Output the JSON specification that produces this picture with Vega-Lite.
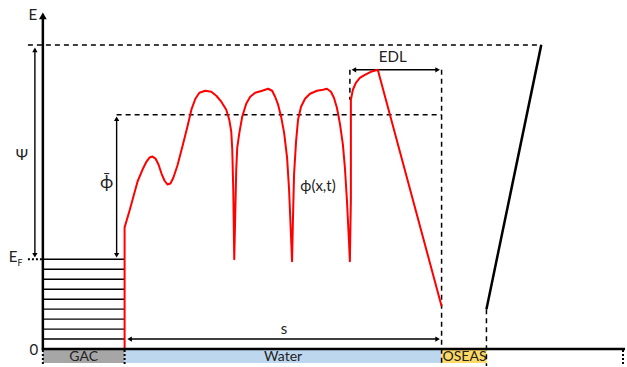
{
  "$schema": "https://vega.github.io/schema/vega-lite/v6.json",
  "width": 627,
  "height": 367,
  "autosize": {"type": "fit", "contains": "padding"},
  "padding": 0,
  "config": {"view": {"stroke": null}, "text": {"font": "Lato"}},
  "datasets": {
    "strip": [
      {"region": "GAC", "x": 43, "x2": 125, "y": 351, "y2": 364},
      {"region": "Water", "x": 125, "x2": 443, "y": 351, "y2": 364},
      {"region": "OSEAS", "x": 443, "x2": 488, "y": 351, "y2": 364}
    ],
    "thick": [
      {"x": 43, "y": 351, "x2": 43, "y2": 18},
      {"x": 42, "y": 350, "x2": 627, "y2": 350},
      {"x": 543, "y": 45, "x2": 488, "y2": 310}
    ],
    "thin": [
      {"x": 35, "y": 50, "x2": 35, "y2": 255},
      {"x": 117, "y": 120, "x2": 117, "y2": 255},
      {"x": 356, "y": 70, "x2": 438, "y2": 70},
      {"x": 131, "y": 340, "x2": 438, "y2": 340},
      {"x": 43, "y": 260, "x2": 125, "y2": 260},
      {"x": 43, "y": 270, "x2": 125, "y2": 270},
      {"x": 43, "y": 280, "x2": 125, "y2": 280},
      {"x": 43, "y": 290, "x2": 125, "y2": 290},
      {"x": 43, "y": 300, "x2": 125, "y2": 300},
      {"x": 43, "y": 310, "x2": 125, "y2": 310},
      {"x": 43, "y": 320, "x2": 125, "y2": 320},
      {"x": 43, "y": 330, "x2": 125, "y2": 330},
      {"x": 43, "y": 340, "x2": 125, "y2": 340}
    ],
    "dashed": [
      {"x": 28, "y": 45, "x2": 543, "y2": 45},
      {"x": 117, "y": 115, "x2": 443, "y2": 115},
      {"x": 351, "y": 70, "x2": 351, "y2": 100},
      {"x": 443, "y": 70, "x2": 443, "y2": 367},
      {"x": 488, "y": 310, "x2": 488, "y2": 367}
    ],
    "dotted": [
      {"x": 28, "y": 260, "x2": 43, "y2": 260},
      {"x": 43, "y": 351, "x2": 43, "y2": 367},
      {"x": 125, "y": 351, "x2": 125, "y2": 367},
      {"x": 625, "y": 351, "x2": 625, "y2": 367}
    ],
    "heads": [
      {"x": 43, "y": 16, "dir": "up", "kind": "big"},
      {"x": 35, "y": 50, "dir": "up", "kind": "small"},
      {"x": 35, "y": 256, "dir": "down", "kind": "small"},
      {"x": 117, "y": 119, "dir": "up", "kind": "small"},
      {"x": 117, "y": 256, "dir": "down", "kind": "small"},
      {"x": 355, "y": 70, "dir": "left", "kind": "small"},
      {"x": 439, "y": 70, "dir": "right", "kind": "small"},
      {"x": 130, "y": 340, "dir": "left", "kind": "small"},
      {"x": 439, "y": 340, "dir": "right", "kind": "small"}
    ],
    "phi": [
      {"i": 0, "x": 125, "y": 351},
      {"i": 1, "x": 125, "y": 228},
      {"i": 2, "x": 130, "y": 211},
      {"i": 3, "x": 138, "y": 182},
      {"i": 4, "x": 143, "y": 170},
      {"i": 5, "x": 147, "y": 162},
      {"i": 6, "x": 150, "y": 158},
      {"i": 7, "x": 153, "y": 157},
      {"i": 8, "x": 156, "y": 159},
      {"i": 9, "x": 159, "y": 165},
      {"i": 10, "x": 162, "y": 174},
      {"i": 11, "x": 165, "y": 181},
      {"i": 12, "x": 168, "y": 185},
      {"i": 13, "x": 171, "y": 184},
      {"i": 14, "x": 174, "y": 178},
      {"i": 15, "x": 178, "y": 166},
      {"i": 16, "x": 183, "y": 147},
      {"i": 17, "x": 188, "y": 127},
      {"i": 18, "x": 192, "y": 110},
      {"i": 19, "x": 196, "y": 99},
      {"i": 20, "x": 200, "y": 93},
      {"i": 21, "x": 206, "y": 91},
      {"i": 22, "x": 212, "y": 92},
      {"i": 23, "x": 217, "y": 96},
      {"i": 24, "x": 222, "y": 102},
      {"i": 25, "x": 227, "y": 110},
      {"i": 26, "x": 230, "y": 120},
      {"i": 27, "x": 232, "y": 132},
      {"i": 28, "x": 233, "y": 150},
      {"i": 29, "x": 234, "y": 190},
      {"i": 30, "x": 235, "y": 260},
      {"i": 31, "x": 236, "y": 215},
      {"i": 32, "x": 237, "y": 170},
      {"i": 33, "x": 238, "y": 148},
      {"i": 34, "x": 240, "y": 134},
      {"i": 35, "x": 243, "y": 117},
      {"i": 36, "x": 247, "y": 104},
      {"i": 37, "x": 251, "y": 97},
      {"i": 38, "x": 256, "y": 93},
      {"i": 39, "x": 263, "y": 91},
      {"i": 40, "x": 269, "y": 89},
      {"i": 41, "x": 273, "y": 91},
      {"i": 42, "x": 276, "y": 97},
      {"i": 43, "x": 279, "y": 105},
      {"i": 44, "x": 282, "y": 117},
      {"i": 45, "x": 285, "y": 133},
      {"i": 46, "x": 288, "y": 158},
      {"i": 47, "x": 290, "y": 190},
      {"i": 48, "x": 293, "y": 262},
      {"i": 49, "x": 294, "y": 215},
      {"i": 50, "x": 295, "y": 175},
      {"i": 51, "x": 297, "y": 142},
      {"i": 52, "x": 299, "y": 120},
      {"i": 53, "x": 302, "y": 107},
      {"i": 54, "x": 306, "y": 99},
      {"i": 55, "x": 311, "y": 94},
      {"i": 56, "x": 318, "y": 91},
      {"i": 57, "x": 324, "y": 90},
      {"i": 58, "x": 328, "y": 89},
      {"i": 59, "x": 332, "y": 92},
      {"i": 60, "x": 335, "y": 98},
      {"i": 61, "x": 338, "y": 108},
      {"i": 62, "x": 341, "y": 124},
      {"i": 63, "x": 344, "y": 145},
      {"i": 64, "x": 346, "y": 168},
      {"i": 65, "x": 348, "y": 200},
      {"i": 66, "x": 350, "y": 240},
      {"i": 67, "x": 351, "y": 262},
      {"i": 68, "x": 352, "y": 200},
      {"i": 69, "x": 352, "y": 100},
      {"i": 70, "x": 354, "y": 90},
      {"i": 71, "x": 357, "y": 83},
      {"i": 72, "x": 361, "y": 78},
      {"i": 73, "x": 366, "y": 75},
      {"i": 74, "x": 372, "y": 72},
      {"i": 75, "x": 379, "y": 70},
      {"i": 76, "x": 443, "y": 307}
    ],
    "labels": [
      {"label": "E", "x": 33, "y": 15},
      {"label": "Ψ", "x": 22, "y": 155},
      {"label": "0", "x": 34, "y": 351},
      {"label": "E", "x": 13, "y": 258},
      {"label": "ϕ(x,t)", "x": 319, "y": 187},
      {"label": "EDL", "x": 394, "y": 57},
      {"label": "s", "x": 285, "y": 330}
    ],
    "biglabels": [
      {"label": "ϕ̄", "x": 107, "y": 184}
    ],
    "sub": [
      {"label": "F", "x": 20, "y": 264}
    ],
    "striplabels": [
      {"label": "GAC", "x": 84, "y": 358},
      {"label": "Water", "x": 284, "y": 358},
      {"label": "OSEAS", "x": 466, "y": 358}
    ]
  },
  "encoding": {
    "x": {"field": "x", "type": "quantitative", "scale": {"domain": [0, 627], "nice": false, "zero": false}, "axis": null},
    "y": {"field": "y", "type": "quantitative", "scale": {"domain": [0, 367], "reverse": true, "nice": false, "zero": false}, "axis": null}
  },
  "layer": [
    {
      "data": {"name": "strip"},
      "mark": {"type": "rect"},
      "encoding": {
        "x2": {"field": "x2"},
        "y2": {"field": "y2"},
        "color": {"field": "region", "type": "nominal", "scale": {"domain": ["GAC", "Water", "OSEAS"], "range": ["#a6a6a6", "#bdd7ee", "#ffd966"]}, "legend": null}
      }
    },
    {
      "data": {"name": "striplabels"},
      "mark": {"type": "text", "fontSize": 14, "color": "#222", "baseline": "middle", "align": "center"},
      "encoding": {"text": {"field": "label"}}
    },
    {
      "data": {"name": "thin"},
      "mark": {"type": "rule", "color": "black", "strokeWidth": 1.4},
      "encoding": {"x2": {"field": "x2"}, "y2": {"field": "y2"}}
    },
    {
      "data": {"name": "dashed"},
      "mark": {"type": "rule", "color": "black", "strokeWidth": 1.5, "strokeDash": [5, 4]},
      "encoding": {"x2": {"field": "x2"}, "y2": {"field": "y2"}}
    },
    {
      "data": {"name": "dotted"},
      "mark": {"type": "rule", "color": "black", "strokeWidth": 2, "strokeDash": [2, 2]},
      "encoding": {"x2": {"field": "x2"}, "y2": {"field": "y2"}}
    },
    {
      "data": {"name": "phi"},
      "mark": {"type": "line", "color": "#ff0000", "strokeWidth": 2, "strokeJoin": "round"},
      "encoding": {"order": {"field": "i", "type": "quantitative"}}
    },
    {
      "data": {"name": "thick"},
      "mark": {"type": "rule", "color": "black", "strokeWidth": 2.5},
      "encoding": {"x2": {"field": "x2"}, "y2": {"field": "y2"}}
    },
    {
      "data": {"name": "heads"},
      "mark": {"type": "point", "filled": true, "color": "black", "opacity": 1},
      "encoding": {
        "shape": {"field": "dir", "type": "nominal", "scale": {"domain": ["up", "down", "left", "right"], "range": ["triangle-up", "triangle-down", "triangle-left", "triangle-right"]}, "legend": null},
        "size": {"field": "kind", "type": "nominal", "scale": {"domain": ["big", "small"], "range": [60, 28]}, "legend": null}
      }
    },
    {
      "data": {"name": "labels"},
      "mark": {"type": "text", "fontSize": 15, "color": "#222", "baseline": "middle", "align": "center"},
      "encoding": {"text": {"field": "label"}}
    },
    {
      "data": {"name": "biglabels"},
      "mark": {"type": "text", "fontSize": 18, "color": "#222", "baseline": "middle", "align": "center"},
      "encoding": {"text": {"field": "label"}}
    },
    {
      "data": {"name": "sub"},
      "mark": {"type": "text", "fontSize": 9, "color": "#222", "baseline": "middle", "align": "center"},
      "encoding": {"text": {"field": "label"}}
    }
  ]
}
